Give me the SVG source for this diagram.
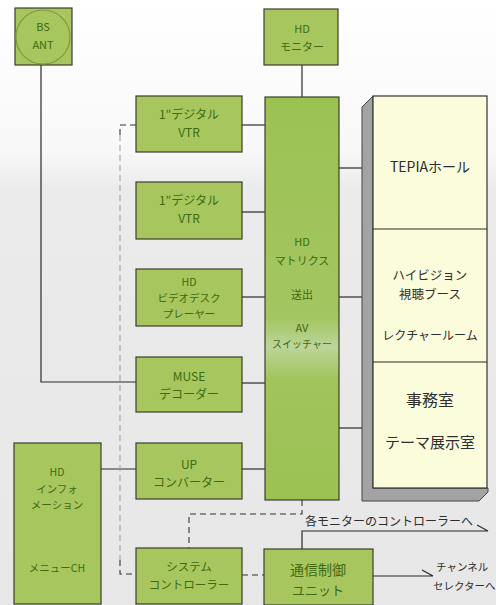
<svg xmlns="http://www.w3.org/2000/svg" width="496" height="605" viewBox="0 0 496 605">
<defs>
<linearGradient id="bg" x1="0" y1="0" x2="0" y2="1">
<stop offset="0" stop-color="#ffffff"/>
<stop offset="0.25" stop-color="#f8f8f8"/>
<stop offset="0.31" stop-color="#ebebeb"/>
<stop offset="1" stop-color="#e7e7e7"/>
</linearGradient>
<linearGradient id="mx" x1="0" y1="0" x2="0" y2="1">
<stop offset="0" stop-color="#9bc152"/>
<stop offset="0.55" stop-color="#a4c662"/>
<stop offset="0.62" stop-color="#bcd49a"/>
<stop offset="0.7" stop-color="#a2c45c"/>
<stop offset="1" stop-color="#9bc152"/>
</linearGradient>
</defs>
<style>
.box{fill:#a7c65e;stroke:#3a3f30;stroke-width:1.2}
.gt{font-family:"Noto Sans CJK JP","Noto Sans",sans-serif;fill:#3e6a12;text-anchor:middle}
.rt{font-family:"Noto Sans CJK JP","Noto Sans",sans-serif;fill:#2e2e2e;text-anchor:middle}
.lt{font-family:"Noto Sans CJK JP","Noto Sans",sans-serif;fill:#2e2e2e;text-anchor:start}
.ln{stroke:#2a2a2a;stroke-width:1.2;fill:none}
.ds{stroke:#333;stroke-width:1.1;fill:none;stroke-dasharray:6 4}
.dl{stroke:#999;stroke-width:1;fill:none;stroke-dasharray:6 4}
</style>
<rect x="0" y="0" width="496" height="605" fill="url(#bg)"/>

<g id="connectors">
<polyline class="ln" points="41,65 41,382 136,382"/>
<line class="ln" x1="302" y1="65" x2="302" y2="97"/>
<line class="ln" x1="242" y1="125" x2="265" y2="125"/>
<line class="ln" x1="242" y1="212" x2="265" y2="212"/>
<line class="ln" x1="242" y1="297" x2="265" y2="297"/>
<line class="ln" x1="242" y1="383" x2="265" y2="383"/>
<line class="ln" x1="242" y1="469" x2="265" y2="469"/>
<line class="ln" x1="101" y1="469" x2="136" y2="469"/>
<line class="ln" x1="339" y1="168" x2="362" y2="168"/>
<line class="ln" x1="339" y1="297" x2="362" y2="297"/>
<line class="ln" x1="339" y1="428" x2="362" y2="428"/>
<polyline class="ds" points="136,125 120,125 120,135"/>
<polyline class="dl" points="120,135 120,560"/>
<polyline class="ds" points="120,560 120,574 136,574"/>
<polyline class="ds" points="302,500 302,514 189,514 189,548"/>
<line class="ds" x1="242" y1="575" x2="264" y2="575"/>
<polyline class="ln" points="302,549 302,531 488,531 477,525"/>
<polyline class="ln" points="373,576 433,576 422,570"/>
<text class="rt" x="389" y="526" font-size="12">各モニターのコントローラーへ</text>
<text class="lt" x="436" y="571" font-size="10.5">チャンネル</text>
<text class="lt" x="433" y="590" font-size="10.5">セレクターへ</text>
</g>

<g id="bs-ant">
<rect class="box" x="15" y="8" width="57" height="57"/>
<circle cx="43" cy="37" r="27" fill="none" stroke="#7f9a3c" stroke-width="1.2"/>
<text class="gt" x="43" y="31" font-size="11">BS</text>
<text class="gt" x="43" y="49" font-size="11">ANT</text>
</g>

<g id="hd-monitor">
<rect class="box" x="264" y="9" width="74" height="56"/>
<text class="gt" x="302" y="33" font-size="11">HD</text>
<text class="gt" x="302" y="51" font-size="11">モニター</text>
</g>

<g id="vtr1">
<rect class="box" x="136" y="96" width="106" height="56"/>
<text class="gt" x="189" y="119" font-size="12">1″デジタル</text>
<text class="gt" x="189" y="137" font-size="12">VTR</text>
</g>

<g id="vtr2">
<rect class="box" x="136" y="182" width="106" height="57"/>
<text class="gt" x="189" y="205" font-size="12">1″デジタル</text>
<text class="gt" x="189" y="223" font-size="12">VTR</text>
</g>

<g id="videodisc">
<rect class="box" x="136" y="269" width="106" height="57"/>
<text class="gt" x="189" y="286" font-size="10.5">HD</text>
<text class="gt" x="189" y="302" font-size="10.5">ビデオデスク</text>
<text class="gt" x="189" y="318" font-size="10.5">プレーヤー</text>
</g>

<g id="muse">
<rect class="box" x="136" y="357" width="106" height="55"/>
<text class="gt" x="189" y="381" font-size="12">MUSE</text>
<text class="gt" x="189" y="399" font-size="12">デコーダー</text>
</g>

<g id="up-converter">
<rect class="box" x="136" y="443" width="106" height="56"/>
<text class="gt" x="189" y="469" font-size="12">UP</text>
<text class="gt" x="189" y="487" font-size="12">コンバーター</text>
</g>

<g id="system-controller">
<rect class="box" x="136" y="548" width="106" height="56"/>
<text class="gt" x="189" y="571" font-size="11.5">システム</text>
<text class="gt" x="189" y="589" font-size="11.5">コントローラー</text>
</g>

<g id="hd-info">
<rect class="box" x="14" y="443" width="87" height="161"/>
<text class="gt" x="57" y="476" font-size="10.5">HD</text>
<text class="gt" x="57" y="493" font-size="10.5">インフォ</text>
<text class="gt" x="57" y="509" font-size="10.5">メーション</text>
<text class="gt" x="57" y="572" font-size="10.5">メニューCH</text>
</g>

<g id="matrix">
<rect x="265" y="97" width="74" height="403" fill="url(#mx)" stroke="#3a3f30" stroke-width="1.2"/>
<text class="gt" x="302" y="246" font-size="11">HD</text>
<text class="gt" x="302" y="265" font-size="11">マトリクス</text>
<text class="gt" x="302" y="299" font-size="11">送出</text>
<text class="gt" x="302" y="332" font-size="11">AV</text>
<text class="gt" x="302" y="348" font-size="10">スイッチャー</text>
</g>

<g id="comm-unit">
<rect class="box" x="264" y="549" width="109" height="56"/>
<text class="gt" x="318" y="575" font-size="14">通信制御</text>
<text class="gt" x="318" y="595" font-size="13">ユニット</text>
</g>

<g id="rooms">
<polygon points="362,107 373,96 373,488 488,488 488,492 479,501 362,501" fill="#a3a3a3" stroke="#444" stroke-width="1"/>
<rect x="373" y="96" width="114" height="392" fill="#fafcdc" stroke="#333" stroke-width="1.2"/>
<line class="ln" x1="373" y1="229" x2="487" y2="229"/>
<line class="ln" x1="373" y1="362" x2="487" y2="362"/>
<text class="rt" x="430" y="172" font-size="14">TEPIAホール</text>
<text class="rt" x="430" y="280" font-size="12.5">ハイビジョン</text>
<text class="rt" x="430" y="299" font-size="12.5">視聴ブース</text>
<text class="rt" x="430" y="340" font-size="12">レクチャールーム</text>
<text class="rt" x="430" y="406" font-size="16">事務室</text>
<text class="rt" x="430" y="448" font-size="15">テーマ展示室</text>
</g>
</svg>
